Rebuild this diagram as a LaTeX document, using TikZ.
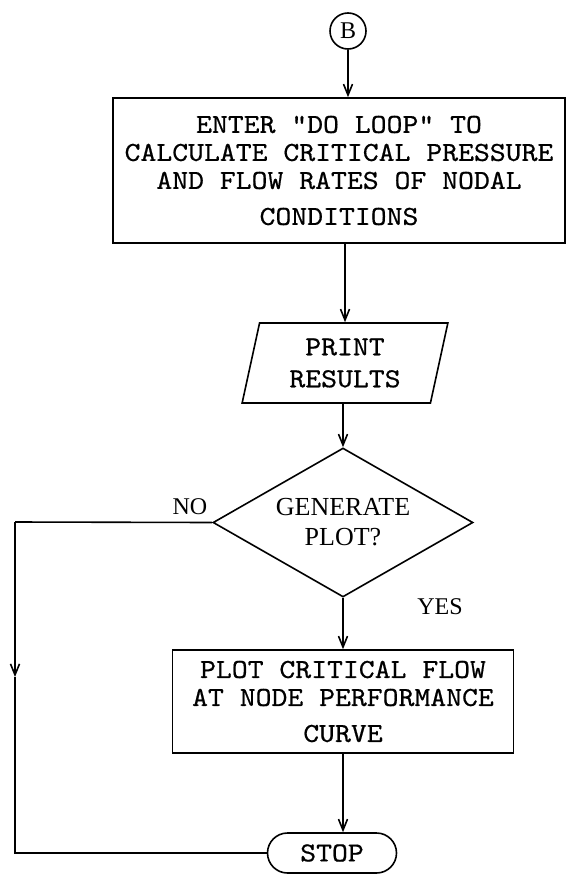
\documentclass[tikz,border=0pt]{standalone}
\usepackage{fontspec}
\setmainfont{Liberation Serif}
\setmonofont{lmmono10-regular}[Extension=.otf, FakeStretch=1.1, FakeBold=0.6]
\usetikzlibrary{arrows.meta,shapes.geometric,shapes.misc}

\begin{document}
\begin{tikzpicture}[x=1pt, y=-1pt, line width=1.6pt, >={Straight Barb[length=11pt,width=9pt]},
	procbox/.style={draw, rectangle, align=center, inner sep=0pt, font=\ttfamily\fontsize{27.5}{28}\selectfont},
	label/.style={font=\fontsize{24}{29}\selectfont, inner sep=0pt}]
	\useasboundingbox (0,0) rectangle (571,875);
	% connector B and the loop box
	\node[circle, draw, minimum size=36pt, inner sep=0pt, font=\fontsize{24}{24}\selectfont] (b) at (348,31) {B};
	\node[procbox, minimum width=452pt, minimum height=145pt] (enter) at (339,170.5)
		{ENTER "DO LOOP" TO\\CALCULATE CRITICAL PRESSURE\\AND FLOW RATES OF NODAL\\[8pt]CONDITIONS};
	\node[trapezium, trapezium left angle=77, trapezium right angle=103, trapezium stretches=true, draw,
		minimum width=206pt, minimum height=80pt, inner sep=0pt, align=center,
		font=\ttfamily\fontsize{27.5}{32}\selectfont] (print) at (345,363) {PRINT\\RESULTS};
	\node[diamond, draw, aspect=1.745, minimum width=260pt, minimum height=149pt, inner sep=0pt,
		align=center, font=\fontsize{26}{30}\selectfont] (plotq) at (343,522.5) {GENERATE\\PLOT?};
	\node[procbox, minimum width=341pt, minimum height=103pt] (plot) at (343,701.5)
		{PLOT CRITICAL FLOW\\AT NODE PERFORMANCE\\[8pt]CURVE};
	\node[rounded rectangle, draw, minimum width=129pt, minimum height=40pt, inner sep=0pt,
		font=\ttfamily\fontsize{27.5}{28}\selectfont] (stop) at (332,853) {STOP};
	\node[label] (no) at (190,507) {NO};
	\node[label] (yes) at (440,607) {YES};
	% main flow
	\draw[->] (b) -- (b |- enter.north);
	\draw[->] (enter.south -| print.north) -- (print.north);
	\draw[->] (print.south -| plotq.north) -- (plotq.north);
	\draw[->] (plotq.south) -- (plotq.south |- plot.north);
	\draw[->] (plot.south) -- (plot.south |- stop.north);
	% NO branch
	\coordinate (noturn) at (15,522);
	\coordinate (nomid) at (15,677);
	\coordinate (nobot) at (15,853);
	\draw (plotq.west) -- (noturn);
	\draw[->] (noturn) -- (nomid);
	\draw (nomid) -- (nobot) -- (stop.west);
\end{tikzpicture}
\end{document}
